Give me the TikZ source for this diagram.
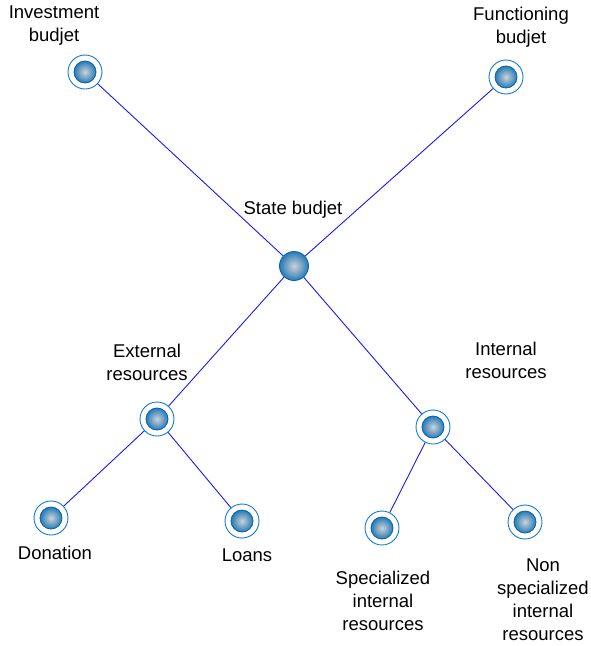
\documentclass[tikz,border=0pt]{standalone}
\usepackage{fontspec}
\setmainfont{Liberation Sans}
\definecolor{ringblue}{RGB}{20,120,200}
\definecolor{balledge}{RGB}{0,100,170}
\definecolor{ballcore}{RGB}{205,210,215}
\definecolor{linkblue}{RGB}{25,25,245}
\tikzset{
  ball/.style={circle,inner sep=0pt,minimum size=22pt,draw=balledge,line width=0.8pt,
    shading=radial,inner color=ballcore,outer color=balledge!85},
  bigball/.style={ball,minimum size=29pt},
  ring/.style={circle,draw=ringblue,line width=0.9pt,inner sep=0pt,minimum size=34pt},
  txt/.style={align=center,font=\fontsize{18.5}{23}\selectfont,inner sep=0pt}
}
\begin{document}
\begin{tikzpicture}[x=1pt,y=-1pt]
  \useasboundingbox (0,0) rectangle (590,646);
  % root and branches
  \node[bigball] (state) at (294,266) {};
  \node[ring] (invest) at (85,72) {};
  \node[ring] (funct) at (506,77) {};
  \node[ring] (extern) at (157,419) {};
  \node[ring] (intern) at (433,427) {};
  \node[ring] (donat) at (51,518) {};
  \node[ring] (loans) at (242,521) {};
  \node[ring] (special) at (382,528) {};
  \node[ring] (nonspec) at (525,522) {};
  \foreach \n in {invest,funct,extern,intern,donat,loans,special,nonspec}
    \node[ball] at (\n) {};
  \draw[linkblue,line width=0.9pt] (state) -- (invest)
    (state) -- (funct) (state) -- (extern) (state) -- (intern)
    (extern) -- (donat) (extern) -- (loans)
    (intern) -- (special) (intern) -- (nonspec);
  % labels
  \node[txt] (linvest) at (54,26) {Investment\\budjet};
  \node[txt] (lfunct) at (521,27) {Functioning\\budjet};
  \node[txt] (lstate) at (293,210) {State budjet};
  \node[txt] (lextern) at (147,362) {External\\resources};
  \node[txt] (lintern) at (506,360) {Internal\\resources};
  \node[txt] (ldonat) at (55,553) {Donation};
  \node[txt] (lloans) at (247,555) {Loans};
  \node[txt] (lspecial) at (383,601) {Specialized\\internal\\resources};
  \node[txt] (lnonspec) at (543,600) {Non\\specialized\\internal\\resources};
\end{tikzpicture}
\end{document}
